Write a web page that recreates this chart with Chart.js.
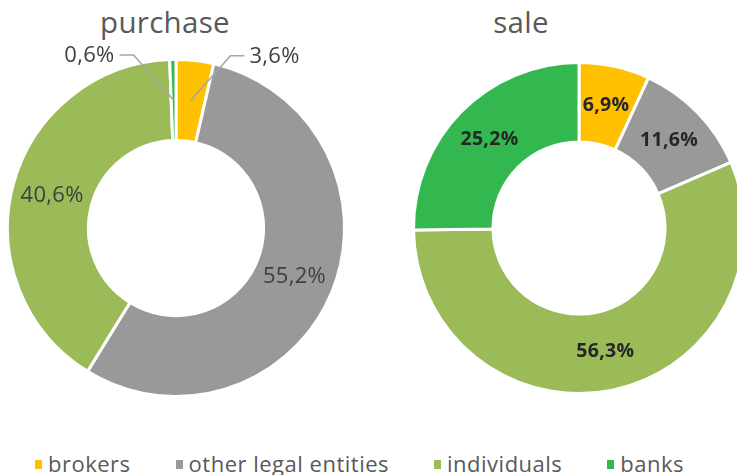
<!DOCTYPE html>
<html>
<head>
<meta charset="utf-8">
<script src="https://cdn.jsdelivr.net/npm/chart.js@4.4.1/dist/chart.umd.min.js"></script>
<style>
  html, body { margin: 0; padding: 0; background: #fff; overflow: hidden; }
  body { width: 737px; height: 475px; position: relative; font-family: "Open Sans", sans-serif; }
  canvas { position: absolute; top: 0; }
  #purchaseChart { left: 0; }
  #saleChart { left: 368px; }
  .title { position: absolute; top: 7px; font-size: 29.5px; line-height: 29px; letter-spacing: 0.3px; color: #595959; text-align: center; width: 240px; }
  #legend { position: absolute; left: 35px; top: 448px; display: flex; gap: 45px; font-size: 22px; letter-spacing: 0.5px; line-height: 30px; color: #595959; }
  #legend .item { display: flex; align-items: center; }
  #legend .box { width: 7px; height: 9px; margin-right: 6px; margin-top: 3px; }
</style>
</head>
<body>
<div class="title" style="left:45px">purchase</div>
<div class="title" style="left:401px">sale</div>
<canvas id="purchaseChart" width="368" height="440"></canvas>
<canvas id="saleChart" width="400" height="440"></canvas>
<div id="legend"></div>
<script>
const categories = ['brokers', 'other legal entities', 'individuals', 'banks'];
const purchaseValues = [3.6, 55.2, 40.6, 0.6];
const saleValues = [6.9, 11.6, 56.3, 25.2];
const sliceColors = ['#FFC000', '#999999', '#9BBB59', '#33B850'];

function fmt(v) {
  return v.toFixed(1).replace('.', ',') + '%';
}

// draws value labels: inside at mid-ring, small slices outside with a leader line
const sliceLabels = {
  id: 'sliceLabels',
  afterDatasetsDraw(chart, args, opts) {
    const ctx = chart.ctx;
    const meta = chart.getDatasetMeta(0);
    const values = chart.data.datasets[0].data;
    ctx.save();
    ctx.font = opts.font;
    ctx.letterSpacing = opts.spacing || '0px';
    ctx.fillStyle = opts.color;
    ctx.textBaseline = 'middle';
    meta.data.forEach((arc, i) => {
      const pos = arc.tooltipPosition();
      const text = fmt(values[i]);
      if (values[i] < opts.outsideBelow) {
        const side = pos.x >= arc.x ? 1 : -1;
        const ex = pos.x + side * 40;
        const ey = pos.y - 45;
        const lx = ex + side * 14;
        ctx.strokeStyle = '#A6A6A6';
        ctx.lineWidth = 1.5;
        ctx.beginPath();
        ctx.moveTo(pos.x, pos.y);
        ctx.lineTo(ex, ey);
        ctx.lineTo(lx, ey);
        ctx.stroke();
        ctx.textAlign = side > 0 ? 'left' : 'right';
        ctx.fillText(text, lx + side * 5, ey + 1);
      } else {
        ctx.textAlign = 'center';
        ctx.fillText(text, pos.x, pos.y);
      }
    });
    ctx.restore();
  }
};

function makeDonut(id, values, padding, labelOpts) {
  return new Chart(document.getElementById(id), {
    type: 'doughnut',
    data: {
      labels: categories,
      datasets: [{
        data: values,
        backgroundColor: sliceColors,
        borderColor: '#ffffff',
        borderWidth: 3
      }]
    },
    options: {
      responsive: false,
      animation: false,
      cutout: '52%',
      layout: { padding: padding },
      plugins: {
        legend: { display: false },
        tooltip: { enabled: false },
        sliceLabels: labelOpts
      }
    },
    plugins: [sliceLabels]
  });
}

makeDonut('purchaseChart', purchaseValues,
  { left: 6, right: 22, top: 58, bottom: 42 },
  { font: '22px "Open Sans"', spacing: '0.3px', color: '#404040', outsideBelow: 5 });

makeDonut('saleChart', saleValues,
  { left: 44, right: 22, top: 61, bottom: 45 },
  { font: 'bold 19.5px "Open Sans"', spacing: '0.3px', color: '#262626', outsideBelow: 0 });

// legend built from the same arrays
const legend = document.getElementById('legend');
categories.forEach((name, i) => {
  const item = document.createElement('div');
  item.className = 'item';
  item.innerHTML = '<span class="box" style="background:' + sliceColors[i] + '"></span><span>' + name + '</span>';
  legend.appendChild(item);
});
</script>
</body>
</html>
